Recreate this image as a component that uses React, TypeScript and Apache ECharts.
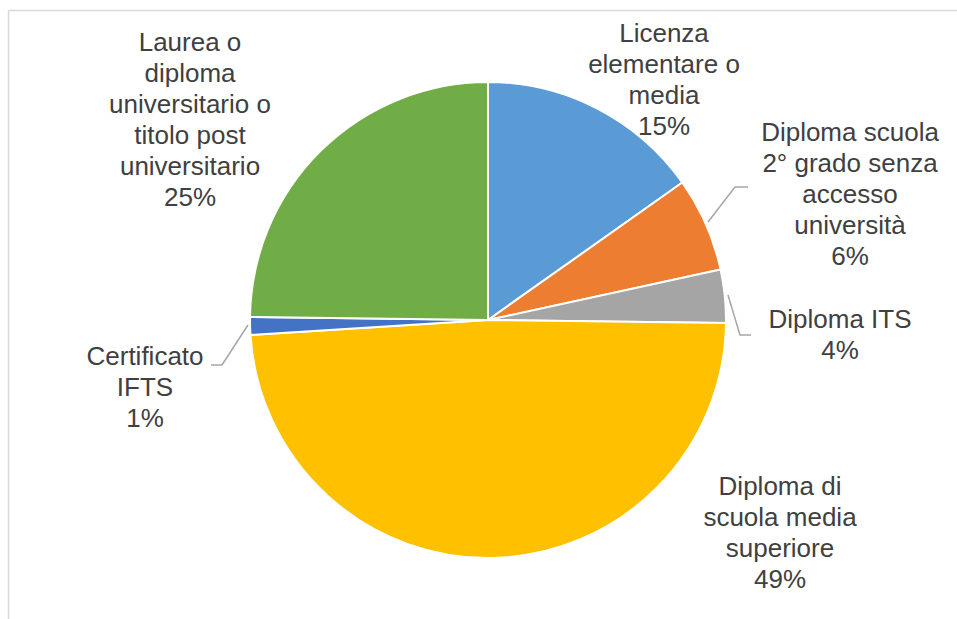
import React, { useEffect, useRef } from "react";
import * as echarts from "echarts";

const categories = [
  "Licenza\nelementare o\nmedia",
  "Diploma scuola\n2° grado senza\naccesso\nuniversità",
  "Diploma ITS",
  "Diploma di\nscuola media\nsuperiore",
  "Certificato\nIFTS",
  "Laurea o\ndiploma\nuniversitario o\ntitolo post\nuniversitario",
];
const values = [15.2, 6.4, 3.6, 48.8, 1.2, 24.8];
const colors = ["#5b9bd5", "#ed7d31", "#a5a5a5", "#ffc000", "#4472c4", "#70ad47"];
const showLeader = [false, true, true, false, true, false];

// label layout (page pixel coords)
const labelCenters = [
  [664, 79],
  [850, 194],
  [840, 334],
  [780, 532],
  [145, 387],
  [190, 119],
];
const leaderPoints: (number[][] | null)[] = [
  null,
  [[708, 222], [735, 187], [748, 187]],
  [[728, 295], [740, 335], [751, 335]],
  null,
  [[248, 325], [222, 365], [211, 365]],
  [[320, 147], [288, 112], [277, 112]],
];

export default function App() {
  const ref = useRef<HTMLDivElement>(null);
  useEffect(() => {
    if (!ref.current) return;
    const chart = echarts.init(ref.current, undefined, { renderer: "svg" });
    chart.setOption({
      animation: false,
      backgroundColor: "#ffffff",
      graphic: [
        {
          type: "rect",
          shape: { x: 8.5, y: 10.5, width: 2000, height: 2000 },
          style: { fill: "none", stroke: "#d9d9d9", lineWidth: 1.5 },
          silent: true,
        },
      ],
      series: [
        {
          type: "pie",
          center: [488, 320],
          radius: [0, 238],
          startAngle: 90,
          clockwise: true,
          avoidLabelOverlap: false,
          itemStyle: { borderColor: "#ffffff", borderWidth: 2 },
          label: {
            show: true,
            position: "outside",
            fontFamily: "Liberation Sans, Arial, sans-serif",
            fontSize: 26,
            lineHeight: 31,
            color: "#404040",
            align: "center",
            formatter: (p: any) => `${p.name}\n${Math.round(p.percent)}%`,
          },
          labelLine: {
            show: true,
            lineStyle: { color: "#a6a6a6", width: 1.5 },
          },
          labelLayout: (params: any) => {
            const i = params.dataIndex;
            const c = labelCenters[i];
            const out: any = {
              x: c[0],
              y: c[1],
              align: "center",
              verticalAlign: "middle",
            };
            if (leaderPoints[i]) out.labelLinePoints = leaderPoints[i];
            return out;
          },
          data: categories.map((name, i) => ({
            name,
            value: values[i],
            itemStyle: { color: colors[i] },
            labelLine: { show: showLeader[i] },
          })),
        },
      ],
    });
    return () => chart.dispose();
  }, []);
  return (
    <div
      ref={ref}
      style={{ position: "fixed", left: 0, top: 0, width: 957, height: 619 }}
    />
  );
}
